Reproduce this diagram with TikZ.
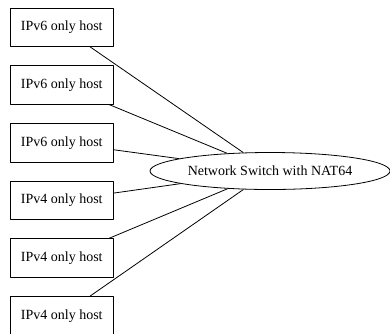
\documentclass[tikz,border=0pt]{standalone}
\usepackage{fontspec}
\setmainfont{Liberation Serif}
\usetikzlibrary{shapes.geometric}
\tikzset{
 hostbox/.style={draw, rectangle, minimum width=102.5pt, minimum height=38.5pt, inner sep=0pt},
 switchnode/.style={draw, ellipse, minimum width=240pt, minimum height=37pt, inner sep=0pt}
}
\begin{document}
\begin{tikzpicture}[x=1pt, y=-1pt, font=\fontsize{14}{16}\selectfont, line width=0.8pt, line join=round]
 \useasboundingbox (0,0) rectangle (390,333);
 \node[switchnode] (sw) at (270,171) {Network Switch with NAT64};
 \foreach \i/\v in {1/6,2/6,3/6,4/4,5/4,6/4}{
 \node[hostbox] (h\i) at (61.75, {27.3+57.7*(\i-1)}) {IPv\v{} only host};
 \draw (h\i) -- (sw);}
\end{tikzpicture}
\end{document}
